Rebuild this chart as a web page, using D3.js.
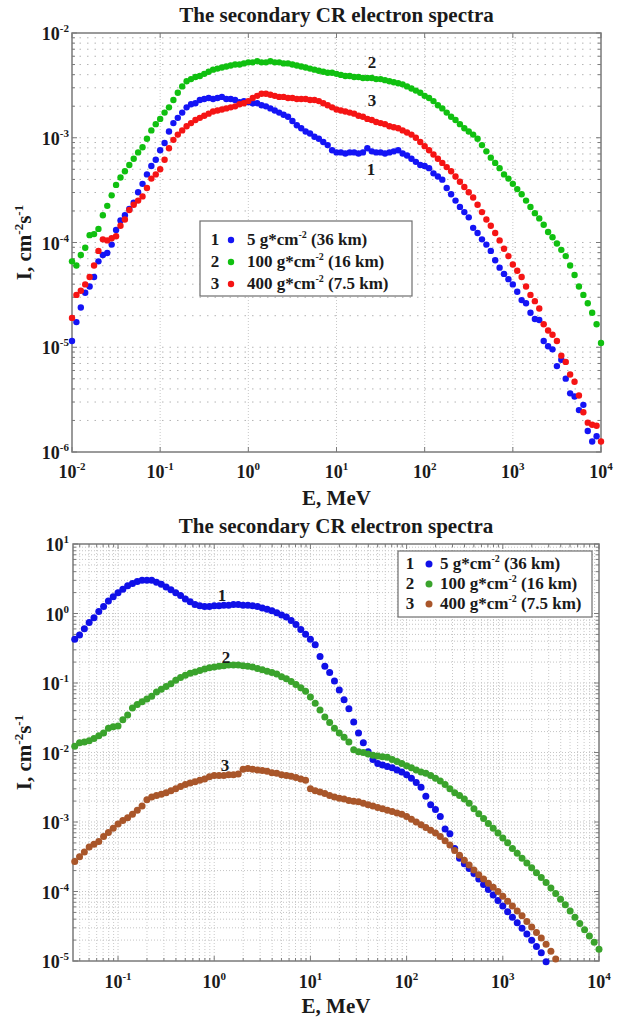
<!DOCTYPE html>
<html>
<head>
<meta charset="utf-8">
<title>The secondary CR electron spectra</title>
<script src="https://cdn.jsdelivr.net/npm/d3@7"></script>
<style>
  body { margin: 0; background: #fff; }
  text { font-family: "Liberation Serif", "Times New Roman", serif; font-weight: bold; fill: #1a1a1a; }
</style>
</head>
<body>
<svg id="chart" width="623" height="1018"></svg>
<script>
// ---------------- data (log10 E in MeV, log10 I in cm^-2 s^-1) ----------------
const legendLabels = ['5 g*cm', '100 g*cm', '400 g*cm'];
const legendTails = [' (36 km)', ' (16 km)', ' (7.5 km)'];

// upper panel
const logE_top = [
  -2.00,-1.95,-1.90,-1.85,-1.80,-1.75,-1.70,-1.65,-1.60,-1.55,
  -1.50,-1.45,-1.40,-1.35,-1.30,-1.25,-1.20,-1.15,-1.10,-1.05,
  -1.00,-0.95,-0.90,-0.85,-0.80,-0.75,-0.70,-0.65,-0.60,-0.55,
  -0.50,-0.45,-0.40,-0.35,-0.30,-0.25,-0.20,-0.15,-0.10,-0.05,
   0.00, 0.05, 0.10, 0.15, 0.20, 0.25, 0.30, 0.35, 0.40, 0.45,
   0.50, 0.55, 0.60, 0.65, 0.70, 0.75, 0.80, 0.85, 0.90, 0.95,
   1.00, 1.05, 1.10, 1.15, 1.20, 1.25, 1.30, 1.35, 1.40, 1.45,
   1.50, 1.55, 1.60, 1.65, 1.70, 1.75, 1.80, 1.85, 1.90, 1.95,
   2.00, 2.05, 2.10, 2.15, 2.20, 2.25, 2.30, 2.35, 2.40, 2.45,
   2.50, 2.55, 2.60, 2.65, 2.70, 2.75, 2.80, 2.85, 2.90, 2.95,
   3.00, 3.05, 3.10, 3.15, 3.20, 3.25, 3.30, 3.35, 3.40, 3.45,
   3.50, 3.55, 3.60, 3.65, 3.70, 3.75, 3.80, 3.85, 3.90, 3.95,
   4.00
];
const logI_top_5g = [
  -4.94,-4.76,-4.62,-4.48,-4.42,-4.33,-4.18,-4.12,-4.10,-4.02,
  -3.88,-3.79,-3.74,-3.68,-3.62,-3.52,-3.44,-3.35,-3.27,-3.21,
  -3.12,-3.05,-2.94,-2.86,-2.81,-2.76,-2.71,-2.68,-2.67,-2.64,
  -2.63,-2.62,-2.63,-2.62,-2.61,-2.63,-2.63,-2.64,-2.66,-2.65,
  -2.66,-2.67,-2.67,-2.69,-2.70,-2.72,-2.74,-2.76,-2.78,-2.80,
  -2.84,-2.88,-2.91,-2.94,-2.96,-2.99,-3.01,-3.04,-3.07,-3.12,
  -3.14,-3.14,-3.15,-3.14,-3.14,-3.15,-3.14,-3.10,-3.13,-3.14,
  -3.14,-3.15,-3.14,-3.13,-3.12,-3.15,-3.17,-3.20,-3.23,-3.26,
  -3.27,-3.29,-3.34,-3.37,-3.40,-3.48,-3.54,-3.60,-3.66,-3.71,
  -3.76,-3.86,-3.91,-3.97,-4.02,-4.08,-4.17,-4.24,-4.30,-4.35,
  -4.40,-4.47,-4.55,-4.58,-4.67,-4.73,-4.74,-4.94,-4.99,-5.02,
  -5.18,-5.12,-5.30,-5.44,-5.47,-5.60,-5.55,-5.80,-5.90,-5.85,
  null
];
const logI_top_100g = [
  -4.18,-4.22,-4.12,-4.05,-3.93,-3.92,-3.87,-3.74,-3.65,-3.55,
  -3.45,-3.38,-3.32,-3.26,-3.20,-3.14,-3.09,-3.01,-2.93,-2.87,
  -2.82,-2.76,-2.71,-2.64,-2.57,-2.51,-2.46,-2.44,-2.42,-2.41,
  -2.39,-2.37,-2.35,-2.34,-2.33,-2.32,-2.31,-2.30,-2.30,-2.29,
  -2.28,-2.28,-2.27,-2.28,-2.28,-2.27,-2.28,-2.28,-2.29,-2.29,
  -2.30,-2.31,-2.32,-2.33,-2.34,-2.35,-2.36,-2.37,-2.38,-2.38,
  -2.39,-2.40,-2.41,-2.41,-2.42,-2.42,-2.43,-2.43,-2.43,-2.44,
  -2.44,-2.45,-2.46,-2.47,-2.48,-2.49,-2.51,-2.53,-2.55,-2.57,
  -2.60,-2.62,-2.65,-2.69,-2.72,-2.76,-2.80,-2.83,-2.87,-2.91,
  -2.94,-2.97,-3.01,-3.07,-3.13,-3.19,-3.24,-3.29,-3.35,-3.39,
  -3.44,-3.49,-3.54,-3.60,-3.66,-3.72,-3.77,-3.83,-3.90,-3.95,
  -4.01,-4.07,-4.13,-4.22,-4.31,-4.42,-4.50,-4.58,-4.67,-4.78,
  -4.96
];
const logI_top_400g = [
  -4.72,-4.50,-4.46,-4.40,-4.33,-4.22,-4.08,-3.97,-3.98,-3.96,
  -3.94,-3.84,-3.78,-3.69,-3.64,-3.60,-3.56,-3.48,-3.39,-3.35,
  -3.30,-3.21,-3.10,-3.02,-2.97,-2.93,-2.89,-2.86,-2.83,-2.81,
  -2.79,-2.77,-2.75,-2.74,-2.73,-2.72,-2.71,-2.70,-2.68,-2.67,
  -2.65,-2.62,-2.60,-2.58,-2.58,-2.59,-2.60,-2.61,-2.61,-2.62,
  -2.62,-2.63,-2.63,-2.63,-2.64,-2.64,-2.65,-2.67,-2.69,-2.71,
  -2.73,-2.74,-2.75,-2.76,-2.77,-2.79,-2.80,-2.82,-2.83,-2.85,
  -2.86,-2.87,-2.89,-2.90,-2.91,-2.93,-2.95,-2.97,-3.00,-3.04,
  -3.08,-3.12,-3.16,-3.20,-3.24,-3.28,-3.32,-3.37,-3.42,-3.47,
  -3.52,-3.57,-3.64,-3.71,-3.78,-3.84,-3.91,-3.98,-4.06,-4.13,
  -4.21,-4.27,-4.33,-4.42,-4.50,-4.56,-4.63,-4.78,-4.84,-4.88,
  -4.94,-5.08,-5.14,-5.26,-5.33,-5.46,-5.62,-5.72,-5.74,-5.75,
  -5.90
];

// lower panel
const logE_bot = [
  -1.45,-1.40,-1.35,-1.30,-1.25,-1.20,-1.15,-1.10,-1.05,-1.00,
  -0.95,-0.90,-0.85,-0.80,-0.75,-0.70,-0.65,-0.60,-0.55,-0.50,
  -0.45,-0.40,-0.35,-0.30,-0.25,-0.20,-0.15,-0.10,-0.05, 0.00,
   0.05, 0.10, 0.15, 0.20, 0.25, 0.30, 0.35, 0.40, 0.45, 0.50,
   0.55, 0.60, 0.65, 0.70, 0.75, 0.80, 0.85, 0.90, 0.95, 1.00,
   1.05, 1.10, 1.15, 1.20, 1.25, 1.30, 1.35, 1.40, 1.45, 1.50,
   1.55, 1.60, 1.65, 1.70, 1.75, 1.80, 1.85, 1.90, 1.95, 2.00,
   2.05, 2.10, 2.15, 2.20, 2.25, 2.30, 2.35, 2.40, 2.45, 2.50,
   2.55, 2.60, 2.65, 2.70, 2.75, 2.80, 2.85, 2.90, 2.95, 3.00,
   3.05, 3.10, 3.15, 3.20, 3.25, 3.30, 3.35, 3.40, 3.45, 3.50,
   3.55, 3.60, 3.65, 3.70, 3.75, 3.80, 3.85, 3.90, 3.95, 4.00
];
const logI_bot_5g = [
  -0.37,-0.31,-0.22,-0.13,-0.06, 0.03, 0.10, 0.18, 0.24, 0.30,
   0.35, 0.40, 0.43, 0.46, 0.48, 0.48, 0.48, 0.45, 0.42, 0.38,
   0.34, 0.30, 0.26, 0.21, 0.17, 0.13, 0.11, 0.10, 0.10, 0.11,
   0.11, 0.12, 0.12, 0.13, 0.13, 0.12, 0.12, 0.11, 0.10, 0.08,
   0.06, 0.04, 0.01,-0.02,-0.05,-0.10,-0.16,-0.23,-0.30,-0.37,
  -0.45,-0.62,-0.76,-0.85,-0.97,-1.10,-1.24,-1.37,-1.56,-1.72,
  -1.86,-1.99,-2.10,-2.16,-2.18,-2.20,-2.22,-2.25,-2.28,-2.32,
  -2.37,-2.43,-2.50,-2.63,-2.75,-2.82,-2.92,-3.10,-3.17,-3.38,
  -3.52,-3.60,-3.67,-3.74,-3.82,-3.90,-3.97,-4.05,-4.13,-4.21,
  -4.29,-4.37,-4.45,-4.53,-4.61,-4.70,-4.79,-4.88,-5.01, null,
   null, null, null, null, null, null, null, null, null, null
];
const logI_bot_100g = [
  -1.91,-1.86,-1.85,-1.83,-1.80,-1.76,-1.72,-1.65,-1.63,-1.62,
  -1.53,-1.46,-1.36,-1.31,-1.27,-1.23,-1.19,-1.13,-1.09,-1.05,
  -1.01,-0.96,-0.92,-0.89,-0.86,-0.84,-0.82,-0.80,-0.78,-0.77,
  -0.76,-0.75,-0.74,-0.74,-0.74,-0.75,-0.76,-0.77,-0.79,-0.81,
  -0.83,-0.85,-0.87,-0.91,-0.94,-0.98,-1.02,-1.07,-1.12,-1.20,
  -1.29,-1.39,-1.49,-1.57,-1.65,-1.72,-1.78,-1.85,-1.96,-1.99,
  -2.00,-2.02,-2.04,-2.05,-2.06,-2.07,-2.10,-2.13,-2.16,-2.19,
  -2.22,-2.25,-2.28,-2.30,-2.33,-2.37,-2.41,-2.46,-2.52,-2.58,
  -2.62,-2.67,-2.73,-2.81,-2.88,-2.95,-3.02,-3.09,-3.16,-3.23,
  -3.30,-3.38,-3.45,-3.52,-3.59,-3.66,-3.73,-3.80,-3.87,-3.95,
  -4.03,-4.11,-4.19,-4.28,-4.37,-4.46,-4.55,-4.64,-4.73,-4.83
];
const logI_bot_400g = [
  -3.57,-3.50,-3.43,-3.36,-3.32,-3.28,-3.21,-3.15,-3.09,-3.03,
  -2.98,-2.94,-2.89,-2.83,-2.77,-2.68,-2.64,-2.62,-2.60,-2.58,
  -2.55,-2.52,-2.49,-2.46,-2.44,-2.42,-2.40,-2.38,-2.35,-2.33,
  -2.33,-2.33,-2.32,-2.32,-2.31,-2.24,-2.23,-2.24,-2.25,-2.26,
  -2.27,-2.29,-2.30,-2.32,-2.33,-2.34,-2.36,-2.38,-2.40,-2.52,
  -2.55,-2.57,-2.59,-2.62,-2.64,-2.66,-2.67,-2.69,-2.70,-2.71,
  -2.73,-2.75,-2.77,-2.79,-2.81,-2.83,-2.85,-2.87,-2.89,-2.92,
  -2.96,-3.00,-3.04,-3.08,-3.12,-3.16,-3.21,-3.27,-3.33,-3.41,
  -3.48,-3.55,-3.62,-3.69,-3.76,-3.82,-3.88,-3.94,-4.00,-4.07,
  -4.14,-4.21,-4.28,-4.35,-4.43,-4.51,-4.59,-4.67,-4.76,-4.86,
  -4.97, null, null, null, null, null, null, null, null, null
];

// ---------------- layout ----------------
const svg = d3.select('#chart');

const panels = [
  {
    box: { left: 72, right: 601, top: 33, bottom: 452 },
    xDomain: [1e-2, 1e4], yDomain: [1e-6, 1e-2],
    xTickExp: [-2, -1, 0, 1, 2, 3, 4], yTickExp: [-6, -5, -4, -3, -2],
    logE: logE_top,
    series: [logI_top_5g, logI_top_100g, logI_top_400g],
    colors: ['#1414f5', '#10c010', '#f51414'],
    r: 3.2,
    verticalMinorGrid: false,
    minorX: false,
    titleY: 22, tickLabelY: 478, xLabelY: 505, yLabelX: 31,
    legend: { x: 200, y: 221, w: 212, h: 75, rowY: [245, 267, 289], numX: 215, dotX: 231, textX: 247 },
    curveLabels: [['2', 372, 68], ['3', 372, 106], ['1', 371, 175]]
  },
  {
    box: { left: 73, right: 599, top: 544, bottom: 961 },
    xDomain: [Math.pow(10, -1.468), 1e4], yDomain: [1e-5, 1e1],
    xTickExp: [-1, 0, 1, 2, 3, 4], yTickExp: [-5, -4, -3, -2, -1, 0, 1],
    logE: logE_bot,
    series: [logI_bot_5g, logI_bot_100g, logI_bot_400g],
    colors: ['#1010e8', '#3aa32c', '#a9562a'],
    r: 3.5,
    verticalMinorGrid: true,
    minorX: true,
    titleY: 533, tickLabelY: 988, xLabelY: 1013, yLabelX: 31,
    legend: { x: 398, y: 551, w: 194, h: 66, rowY: [569, 589, 609], numX: 410, dotX: 429, textX: 440 },
    curveLabels: [['1', 222, 601], ['2', 226, 663], ['3', 225, 771]]
  }
];

function powLabel(sel, exp) {
  sel.append('tspan').text('10');
  sel.append('tspan').attr('dy', -8).attr('font-size', 11).text(exp);
}

// minor values (2..9 x 10^k) inside a domain
function minorValues(domain) {
  const out = [];
  const lo = Math.floor(Math.log10(domain[0])), hi = Math.ceil(Math.log10(domain[1]));
  for (let k = lo; k < hi; k++) {
    for (let m = 2; m <= 9; m++) {
      const v = m * Math.pow(10, k);
      if (v > domain[0] * 1.0001 && v < domain[1] * 0.9999) out.push(v);
    }
  }
  return out;
}

panels.forEach(p => {
  const b = p.box;
  const x = d3.scaleLog().domain(p.xDomain).range([b.left, b.right]);
  const y = d3.scaleLog().domain(p.yDomain).range([b.bottom, b.top]);
  const g = svg.append('g');

  const xMajor = p.xTickExp.map(e => Math.pow(10, e));
  const yMajor = p.yTickExp.map(e => Math.pow(10, e));
  const xMinor = minorValues(p.xDomain);
  const yMinor = minorValues(p.yDomain);

  // grid
  const grid = g.append('g').attr('fill', 'none');
  const hLines = yMajor.concat(yMinor).filter(v => v > p.yDomain[0] && v < p.yDomain[1]);
  grid.selectAll('line.h').data(hLines).enter().append('line')
    .attr('x1', b.left).attr('x2', b.right)
    .attr('y1', d => y(d)).attr('y2', d => y(d))
    .attr('stroke', p.verticalMinorGrid ? '#c4c4c4' : '#b4b4b4')
    .attr('stroke-width', 1)
    .attr('stroke-dasharray', p.verticalMinorGrid ? '1,2' : '1.5,6');
  const vLines = (p.verticalMinorGrid ? xMajor.concat(xMinor) : xMajor)
    .filter(v => v > p.xDomain[0] * 1.0001 && v < p.xDomain[1] * 0.9999);
  grid.selectAll('line.v').data(vLines).enter().append('line')
    .attr('y1', b.top).attr('y2', b.bottom)
    .attr('x1', d => x(d)).attr('x2', d => x(d))
    .attr('stroke', '#c8c8c8')
    .attr('stroke-width', 1)
    .attr('stroke-dasharray', '1,2');

  // ticks (inward)
  const ticks = g.append('g').attr('stroke', '#7a7a7a').attr('stroke-width', 1);
  xMajor.forEach(v => {
    ticks.append('line').attr('x1', x(v)).attr('x2', x(v)).attr('y1', b.bottom).attr('y2', b.bottom - 5);
    ticks.append('line').attr('x1', x(v)).attr('x2', x(v)).attr('y1', b.top).attr('y2', b.top + 5);
  });
  if (p.minorX) {
    xMinor.forEach(v => {
      ticks.append('line').attr('x1', x(v)).attr('x2', x(v)).attr('y1', b.bottom).attr('y2', b.bottom - 3);
      ticks.append('line').attr('x1', x(v)).attr('x2', x(v)).attr('y1', b.top).attr('y2', b.top + 3);
    });
  }
  yMajor.forEach(v => {
    ticks.append('line').attr('x1', b.left).attr('x2', b.left + 5).attr('y1', y(v)).attr('y2', y(v));
    ticks.append('line').attr('x1', b.right).attr('x2', b.right - 5).attr('y1', y(v)).attr('y2', y(v));
  });
  yMinor.forEach(v => {
    ticks.append('line').attr('x1', b.left).attr('x2', b.left + 3).attr('y1', y(v)).attr('y2', y(v));
    ticks.append('line').attr('x1', b.right).attr('x2', b.right - 3).attr('y1', y(v)).attr('y2', y(v));
  });

  // frame
  g.append('rect')
    .attr('x', b.left).attr('y', b.top)
    .attr('width', b.right - b.left).attr('height', b.bottom - b.top)
    .attr('fill', 'none').attr('stroke', '#7a7a7a').attr('stroke-width', 1.5);

  // tick labels
  p.xTickExp.forEach(e => {
    const t = g.append('text').attr('x', x(Math.pow(10, e))).attr('y', p.tickLabelY)
      .attr('text-anchor', 'middle').attr('font-size', 18);
    powLabel(t, String(e));
  });
  p.yTickExp.forEach(e => {
    const t = g.append('text').attr('x', 69).attr('y', y(Math.pow(10, e)) + 7)
      .attr('text-anchor', 'end').attr('font-size', 18);
    powLabel(t, String(e));
  });

  // title and axis labels
  const cx = (b.left + b.right) / 2;
  g.append('text').attr('x', cx).attr('y', p.titleY).attr('text-anchor', 'middle')
    .attr('font-size', 21).text('The secondary CR electron spectra');
  g.append('text').attr('x', cx).attr('y', p.xLabelY).attr('text-anchor', 'middle')
    .attr('font-size', 21).text('E, MeV');
  const yl = g.append('text')
    .attr('transform', `translate(${p.yLabelX},${(b.top + b.bottom) / 2}) rotate(-90)`)
    .attr('text-anchor', 'middle').attr('font-size', 21);
  yl.append('tspan').text('I, cm');
  yl.append('tspan').attr('dy', -8).attr('font-size', 13).text('-2');
  yl.append('tspan').attr('dy', 8).text('s');
  yl.append('tspan').attr('dy', -8).attr('font-size', 13).text('-1');

  // data points
  p.series.forEach((s, i) => {
    const pts = p.logE.map((le, k) => ({ e: Math.pow(10, le), v: s[k] }))
      .filter(d => d.v !== null)
      .map(d => ({ e: d.e, i: Math.pow(10, d.v) }));
    g.append('g').selectAll('circle').data(pts).enter().append('circle')
      .attr('cx', d => x(d.e)).attr('cy', d => y(d.i))
      .attr('r', p.r).attr('fill', p.colors[i]);
  });

  // curve labels
  p.curveLabels.forEach(c => {
    g.append('text').attr('x', c[1]).attr('y', c[2]).attr('text-anchor', 'middle')
      .attr('font-size', 17).text(c[0]);
  });

  // legend
  const L = p.legend;
  g.append('rect').attr('x', L.x).attr('y', L.y).attr('width', L.w).attr('height', L.h)
    .attr('fill', '#fff').attr('stroke', '#6e6e6e').attr('stroke-width', 1.2);
  legendLabels.forEach((lab, i) => {
    const ry = L.rowY[i];
    g.append('text').attr('x', L.numX).attr('y', ry).attr('text-anchor', 'middle')
      .attr('font-size', 17).text(String(i + 1));
    g.append('circle').attr('cx', L.dotX).attr('cy', ry - 5).attr('r', p.r).attr('fill', p.colors[i]);
    const t = g.append('text').attr('x', L.textX).attr('y', ry).attr('font-size', 17);
    t.append('tspan').text(lab);
    t.append('tspan').attr('dy', -7).attr('font-size', 10).text('-2');
    t.append('tspan').attr('dy', 7).text(legendTails[i]);
  });
});
</script>
</body>
</html>
